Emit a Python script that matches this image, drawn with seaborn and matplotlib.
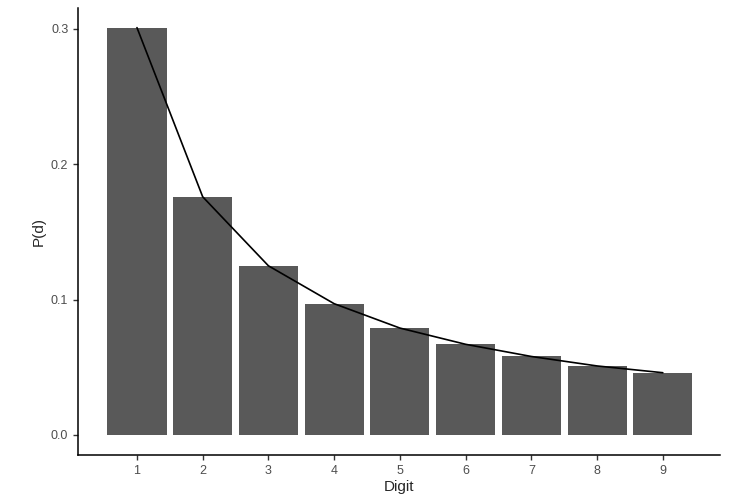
import pandas as pd
import matplotlib
matplotlib.use("Agg")
import matplotlib.pyplot as plt
import seaborn as sns

digits = [1, 2, 3, 4, 5, 6, 7, 8, 9]
probs = [0.301, 0.176, 0.125, 0.097, 0.079, 0.067, 0.058, 0.051, 0.046]

df = pd.DataFrame({"Digit": digits, "P": probs})

sns.set_style("white")
plt.rcParams['font.family'] = ['Liberation Sans', 'DejaVu Sans']

fig = plt.figure(figsize=(7.5, 5), dpi=100)
ax = fig.add_axes([0.104, 0.09, 0.856, 0.894])

sns.barplot(x="Digit", y="P", data=df, native_scale=True, color="#595959",
            saturation=1, width=0.9, linewidth=0, ax=ax)
sns.lineplot(x="Digit", y="P", data=df, color="black", linewidth=1.2, ax=ax)

ax.set_xlim(0.103, 9.87)
ax.set_ylim(-0.0148, 0.3155)
ax.set_xticks(digits)
ax.set_yticks([0.0, 0.1, 0.2, 0.3])
ax.set_yticklabels(["0.0", "0.1", "0.2", "0.3"])
ax.set_xlabel("Digit", fontsize=11, labelpad=2)
ax.set_ylabel("P(d)", fontsize=11)
ax.tick_params(axis="both", direction="out", length=3.5, width=1,
               labelsize=9, labelcolor="#4d4d4d", color="#333333",
               bottom=True, left=True)
sns.despine(ax=ax)
for s in ["left", "bottom"]:
    ax.spines[s].set_color("black")
    ax.spines[s].set_linewidth(1.1)

fig.savefig("out.png", dpi=100)
